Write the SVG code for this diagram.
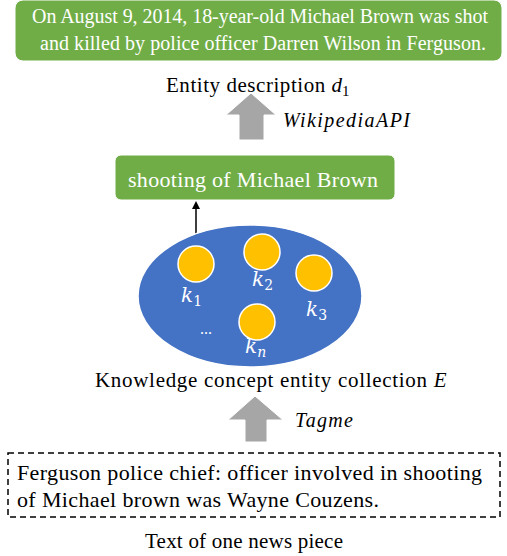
<svg xmlns="http://www.w3.org/2000/svg" width="507" height="556" viewBox="0 0 507 556">
<defs>
<style>
.t{font-family:"Liberation Serif","Times New Roman",serif;fill:#000}
.w{font-family:"Liberation Serif","Times New Roman",serif;fill:#fff}
.i{font-style:italic}
.gbox{fill:#70AD47;stroke:#fff;stroke-width:1}
.dot{fill:#FFC000;stroke:#fff;stroke-width:1.5}
.garrow{fill:#A6A6A6;stroke:#fff;stroke-width:1}
.m{font-family:"DejaVu Serif","Liberation Serif",serif;font-style:italic;fill:#fff}
</style>
<marker id="ah" markerWidth="8" markerHeight="8" refX="6" refY="4" orient="auto" markerUnits="userSpaceOnUse">
<path d="M0,0 L8,4 L0,8 Z" fill="#000"/>
</marker>
</defs>
<rect width="507" height="556" fill="#fff"/>
<g id="description">
<rect class="gbox" x="15" y="0" width="487" height="61" rx="8"/>
<text class="w" x="32" y="23" font-size="20" textLength="456" lengthAdjust="spacing">On August 9, 2014, 18-year-old Michael Brown was shot</text>
<text class="w" x="40" y="50" font-size="20" textLength="446" lengthAdjust="spacing">and killed by police officer Darren Wilson in Ferguson.</text>
</g>
<g id="desc-label">
<text class="t" x="166" y="92" font-size="21"><tspan textLength="165" lengthAdjust="spacing">Entity description </tspan><tspan font-style="italic">d</tspan><tspan font-size="15" dy="4">1</tspan></text>
</g>
<g id="connectors">
<path class="garrow" d="M239,140 L239,115 L226,115 L251,93 L276,115 L264,115 L264,140 Z"/>
<path class="garrow" d="M245,442 L245,420 L228,420 L255,396 L283,420 L267,420 L267,442 Z"/>
<line x1="196" y1="246" x2="196" y2="203" stroke="#000" stroke-width="1.5" marker-end="url(#ah)"/>
</g>
<g id="wiki-label"><text class="t i" x="283" y="127" font-size="20" textLength="127" lengthAdjust="spacing">WikipediaAPI</text></g>
<g id="entity">
<rect class="gbox" x="115" y="155" width="280" height="45" rx="6"/>
<text class="w" x="128" y="187" font-size="22" textLength="250" lengthAdjust="spacing">shooting of Michael Brown</text>
</g>
<g id="collection">
<ellipse cx="250" cy="296" rx="112" ry="71" fill="#4472C4" stroke="#fff" stroke-width="1.5"/>
<circle class="dot" cx="196" cy="264" r="18"/>
<circle class="dot" cx="262" cy="252" r="18"/>
<circle class="dot" cx="314" cy="273" r="18"/>
<circle class="dot" cx="257" cy="322" r="18"/>
<text class="m" x="181" y="302" font-size="20">k<tspan font-style="normal" font-size="14" dy="4">1</tspan></text>
<text class="m" x="252" y="286" font-size="20">k<tspan font-style="normal" font-size="14" dy="4">2</tspan></text>
<text class="m" x="306" y="316" font-size="20">k<tspan font-style="normal" font-size="14" dy="4">3</tspan></text>
<text class="m" x="245" y="353" font-size="20">k<tspan font-size="14" dy="4">n</tspan></text>
<text class="w" x="200" y="334" font-size="16">...</text>
</g>
<g id="collection-label"><text class="t" x="95" y="387" font-size="21"><tspan textLength="338" lengthAdjust="spacing">Knowledge concept entity collection </tspan><tspan font-style="italic">E</tspan></text></g>
<g id="tagme-label"><text class="t i" x="295" y="427" font-size="20" textLength="58" lengthAdjust="spacing">Tagme</text></g>
<g id="news">
<rect x="8" y="453" width="492" height="64" fill="none" stroke="#000" stroke-width="1.5" stroke-dasharray="6,4"/>
<text class="t" x="17" y="480" font-size="22" textLength="465" lengthAdjust="spacing">Ferguson police chief: officer involved in shooting</text>
<text class="t" x="17" y="507" font-size="22" textLength="362" lengthAdjust="spacing">of Michael brown was Wayne Couzens.</text>
</g>
<g id="news-label"><text class="t" x="145" y="548" font-size="21" textLength="198" lengthAdjust="spacing">Text of one news piece</text></g>
</svg>
